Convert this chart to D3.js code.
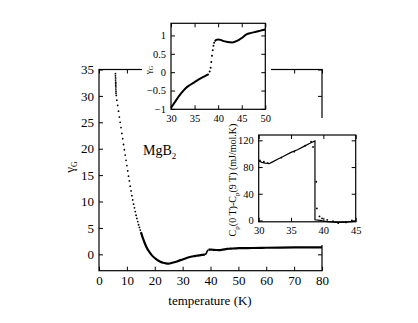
<!DOCTYPE html>
<html>
<head>
<meta charset="utf-8">
<script src="https://cdn.jsdelivr.net/npm/d3@7"></script>
<style>
  body { margin: 0; background: #fff; }
  svg text { font-family: "Liberation Serif", Tinos, "Times New Roman", Times, serif !important; }
  .domain { display: none; }
</style>
</head>
<body>
<div id="chart"></div>
<script>
// main curve, dotted low-temperature part (T in K, gamma_G)
let dotT = [5.9, 5.9, 5.95, 5.95, 6.0, 6.0, 6.0, 6.05, 6.05, 6.1, 6.1, 6.2,
  6.4, 6.7, 7.0, 7.3, 7.6, 7.9, 8.2, 8.5, 8.8, 9.1, 9.4, 9.7, 10.0, 10.3, 10.6,
  10.9, 11.2, 11.5, 11.8, 12.1, 12.4, 12.7, 13.0, 13.3, 13.6, 13.9, 14.2, 14.5, 14.8, 15.1];
let dotG = [34.2, 33.8, 33.4, 33.0, 32.6, 32.3, 32.0, 31.7, 31.3, 30.9, 30.5, 30.1,
  29.2, 28.2, 27.1, 26.0, 25.0, 24.0, 22.9, 21.9, 20.8, 19.8, 18.8, 17.8, 16.8, 15.8, 14.8,
  13.9, 12.9, 12.0, 11.1, 10.3, 9.5, 8.8, 8.1, 7.4, 6.8, 6.2, 5.6, 5.1, 4.6, 4.1];

// continuous part below Tc
let lowT = [15.1, 15.4, 16, 16.5, 17, 18, 19, 20, 21, 22, 23, 24, 25, 26, 27, 28, 29,
  30, 31, 32, 33, 34, 35, 36, 37, 38];
let lowG = [4.1, 3.6, 2.7, 2.0, 1.4, 0.5, -0.2, -0.7, -1.1, -1.4, -1.6, -1.7, -1.75, -1.65,
  -1.5, -1.35, -1.15, -0.97, -0.78, -0.6, -0.45, -0.35, -0.27, -0.19, -0.12, -0.05];

// jump at Tc
let jumpT = [38.2, 38.4, 38.55, 38.7, 38.85, 39.0, 39.15];
let jumpG = [0.02, 0.12, 0.28, 0.45, 0.6, 0.72, 0.8];

// above Tc
let highT = [39.3, 39.6, 40, 40.5, 41, 42, 43, 44, 45, 46, 47, 48, 49, 50, 55, 60, 65, 70, 75, 80];
let highG = [0.84, 0.88, 0.89, 0.88, 0.85, 0.82, 0.81, 0.85, 0.93, 1.03, 1.07, 1.1, 1.13, 1.16,
  1.2, 1.25, 1.28, 1.3, 1.32, 1.33];

// inset: Cp(0T)-Cp(9T), mJ/mol.K
let cpLineT = [30, 30.5, 31, 31.6, 32, 33, 34, 35, 36, 37, 38, 38.7, 38.7, 39.5, 40, 41, 42, 43, 44, 45];
let cpLineC = [89, 87, 86, 85, 87, 92, 97, 102, 106, 111, 116, 119, 1, 0, -1, -2, -3, -3, -2, -1];
let cpDotT = [30.2, 30.8, 31.4, 33.5, 35.5, 37.2, 38.1, 38.4, 38.9, 39.0, 39.4, 39.8, 40.6, 41.5, 42.3, 43.5, 44.4];
let cpDotC = [90, 88, 86, 94, 103, 112, 118, 110, 58, 18, 6, 3, 1, -1, -4, -3, 0];

let mainXTicks = [0, 10, 20, 30, 40, 50, 60, 70, 80];
let mainYTicks = [0, 5, 10, 15, 20, 25, 30, 35];
let in1XTicks = [30, 35, 40, 45, 50];
let in1YTicks = [-1, -0.5, 0, 0.5, 1];
let in2XTicks = [30, 35, 40, 45];
let in2YTicks = [0, 40, 80, 120];

let width = 418, height = 323;
let svg = d3.select("#chart").append("svg")
  .attr("width", width)
  .attr("height", height);

function zip(a, b) {
  return a.map((d, i) => [d, b[i]]);
}

// draws frame + inward ticks on all four sides
function frame(g, x, y, xt, yt, fs, fmtY) {
  let [x0, x1] = x.range();
  let [y0, y1] = y.range();
  g.append("g").attr("transform", `translate(0,${y0})`)
    .call(d3.axisBottom(x).tickValues(xt).tickSize(-4).tickPadding(5).tickFormat(d3.format("d")));
  g.append("g").attr("transform", `translate(0,${y1})`)
    .call(d3.axisTop(x).tickValues(xt).tickSize(-4).tickFormat(""));
  g.append("g").attr("transform", `translate(${x0},0)`)
    .call(d3.axisLeft(y).tickValues(yt).tickSize(-4).tickPadding(5).tickFormat(fmtY));
  g.append("g").attr("transform", `translate(${x1},0)`)
    .call(d3.axisRight(y).tickValues(yt).tickSize(-4).tickFormat(""));
  g.selectAll(".tick text").attr("font-size", fs).attr("fill", "#000");
  g.selectAll(".tick line").attr("stroke", "#000");
  g.append("rect")
    .attr("x", x0).attr("y", y1)
    .attr("width", x1 - x0).attr("height", y0 - y1)
    .attr("fill", "none").attr("stroke", "#000").attr("stroke-width", 1.2);
}

// ---- main plot
let x = d3.scaleLinear().domain([0, 80]).range([99, 322]);
let y = d3.scaleLinear().domain([-3.1, 35]).range([270.7, 69.5]);
let main = svg.append("g");
frame(main, x, y, mainXTicks, mainYTicks, 13, d3.format("d"));

let line = d3.line().x(d => x(d[0])).y(d => y(d[1])).curve(d3.curveMonotoneX);
main.append("path").datum(zip(lowT, lowG)).attr("d", line)
  .attr("fill", "none").attr("stroke", "#000").attr("stroke-width", 2.2);
main.append("path").datum(zip(highT, highG)).attr("d", line)
  .attr("fill", "none").attr("stroke", "#000").attr("stroke-width", 2.2);
main.append("path").datum(zip([38, ...jumpT, 39.3], [-0.05, ...jumpG, 0.84])).attr("d", line)
  .attr("fill", "none").attr("stroke", "#000").attr("stroke-width", 1.6);
main.selectAll("circle.dot").data(zip(dotT, dotG)).enter().append("circle")
  .attr("class", "dot")
  .attr("cx", d => x(d[0])).attr("cy", d => y(d[1])).attr("r", 0.9).attr("fill", "#000");

main.append("text").attr("x", 210).attr("y", 305).attr("text-anchor", "middle")
  .attr("font-size", 13).text("temperature (K)");
let yl = main.append("text").attr("transform", "translate(74,167) rotate(-90)")
  .attr("text-anchor", "middle").attr("font-size", 13);
yl.append("tspan").text("γ");
yl.append("tspan").attr("font-size", 8).attr("dy", 3).text("G");
let mg = main.append("text").attr("x", 143).attr("y", 155).attr("font-size", 14);
mg.append("tspan").text("MgB");
mg.append("tspan").attr("font-size", 9).attr("dy", 4).text("2");

// ---- inset 2 : specific heat difference
svg.append("rect").attr("x", 215).attr("y", 118).attr("width", 203).attr("height", 127).attr("fill", "#fff");
let x2 = d3.scaleLinear().domain([30, 45]).range([258.7, 355.7]);
let y2 = d3.scaleLinear().domain([-2, 128]).range([221.8, 135]);
let in2 = svg.append("g");
frame(in2, x2, y2, in2XTicks, in2YTicks, 10.5, d3.format("d"));
let line2 = d3.line().x(d => x2(d[0])).y(d => y2(d[1]));
in2.append("path").datum(zip(cpLineT, cpLineC)).attr("d", line2)
  .attr("fill", "none").attr("stroke", "#000").attr("stroke-width", 1.2);
in2.selectAll("circle").data(zip(cpDotT, cpDotC)).enter().append("circle")
  .attr("cx", d => x2(d[0])).attr("cy", d => y2(d[1])).attr("r", 0.9).attr("fill", "#000");
let yl2 = in2.append("text").attr("transform", "translate(236,180) rotate(-90)")
  .attr("text-anchor", "middle").attr("font-size", 10);
yl2.append("tspan").text("C");
yl2.append("tspan").attr("font-size", 7).attr("dy", 3).text("p");
yl2.append("tspan").attr("dy", -3).text("(0 T)-C");
yl2.append("tspan").attr("font-size", 7).attr("dy", 3).text("p");
yl2.append("tspan").attr("dy", -3).text("(9 T) (mJ/mol.K)");

// ---- inset 1 : gamma_G near Tc (drawn last, its labels sit over inset 2 box)
svg.append("rect").attr("x", 142).attr("y", 0).attr("width", 129).attr("height", 121).attr("fill", "#fff");
let x1 = d3.scaleLinear().domain([30, 50]).range([171, 265.3]);
let y1 = d3.scaleLinear().domain([-1.01, 1.33]).range([109.3, 23.3]);
let in1 = svg.append("g");
frame(in1, x1, y1, in1XTicks, in1YTicks, 10.5, d => d3.format("")(d));
let line1 = d3.line().x(d => x1(d[0])).y(d => y1(d[1])).curve(d3.curveMonotoneX);
let low1 = zip(lowT, lowG).filter(d => d[0] >= 30);
let high1 = zip(highT, highG).filter(d => d[0] <= 50);
in1.append("path").datum(low1).attr("d", line1)
  .attr("fill", "none").attr("stroke", "#000").attr("stroke-width", 2);
in1.append("path").datum(high1).attr("d", line1)
  .attr("fill", "none").attr("stroke", "#000").attr("stroke-width", 2);
in1.selectAll("circle").data(zip(jumpT, jumpG)).enter().append("circle")
  .attr("cx", d => x1(d[0])).attr("cy", d => y1(d[1])).attr("r", 1).attr("fill", "#000");
let yl1 = in1.append("text").attr("transform", "translate(151,70) rotate(-90)")
  .attr("text-anchor", "middle").attr("font-size", 9);
yl1.append("tspan").text("γ");
yl1.append("tspan").attr("font-size", 6).attr("dy", 2).text("G");
</script>
</body>
</html>
